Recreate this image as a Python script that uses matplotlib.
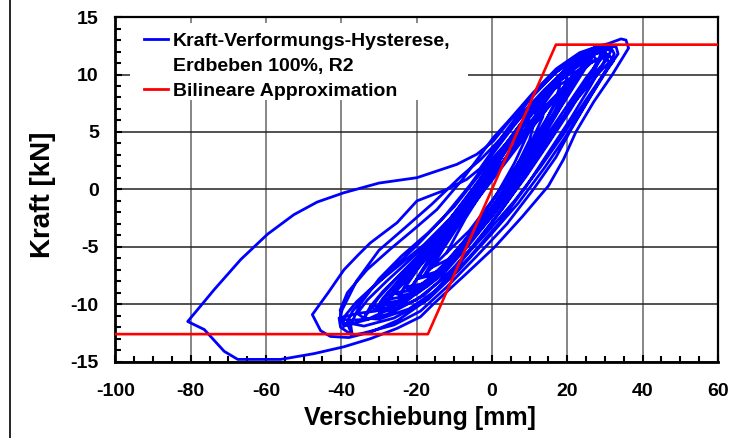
import matplotlib
matplotlib.use('Agg')
import matplotlib.pyplot as plt
from matplotlib.lines import Line2D
from matplotlib.patches import Rectangle
from matplotlib.ticker import MultipleLocator

plt.rcParams['font.family'] = ['Liberation Sans', 'DejaVu Sans']
plt.rcParams['font.weight'] = 'bold'
plt.rcParams['axes.unicode_minus'] = False

# ---------------- data ----------------
# loop descending from a positive tip to the -48 mm tip and back up
loop48_x = [27, 22, 16, 10, 4, 0, -3.2, -6.7, -12, -19.9, -25.2, -32.3, -35.5, -39.3, -43.5, -47.7,
            -45.5, -42.9, -38, -32, -25, -18, -11, -4, 3, 10, 16, 21, 26, 30.5, 31.5, 30.5]
loop48_y = [12.3, 11.5, 9.9, 7.8, 5.2, 3.3, 1.8, 0.87, 0.0, -1.0, -2.9, -4.66, -5.7, -7.0, -9.0, -10.9,
            -12.3, -12.8, -12.9, -12.4, -11.4, -9.8, -7.4, -4.6, -1.6, 1.7, 4.6, 7.4, 9.6, 11.3, 12.0, 12.4]

# large excursion to -80 mm
big_x = [28, 23, 17, 10.9, 4.8, 0.35, -4, -9.3, -19.9, -30, -39.3, -46.4, -52.6, -59.6, -66.7, -73.7,
         -80.8, -76.4, -71.1, -67.5, -56.1, -47.3, -39.3, -32.3, -25.2, -19, -15.6, -7, 0.8, 8, 15,
         19, 22.3, 27, 32, 35, 36.3, 35.6, 34.3]
big_y = [12.3, 11.5, 10.2, 8.2, 6.0, 4.2, 3.06, 2.18, 1.02, 0.55, -0.29, -1.1, -2.2, -3.9, -6.1, -8.7,
         -11.5, -12.2, -14.1, -14.8, -14.8, -14.3, -13.7, -13.0, -12.1, -11.1, -10.0, -7.4, -5.0, -2.4, 0.3,
         2.6, 5.0, 7.6, 10.0, 11.6, 12.3, 13.0, 13.1]

# outer envelope branch of the bundle
loop1_x = [31, 28.6, 23.3, 17.1, 10.9, 4.8, 0.35, -3, -8, -14.6, -20.8, -27, -33.2, -38.4, -40.3, -40]
loop1_y = [12.7, 12.5, 11.9, 10.5, 8.4, 6.1, 4.5, 3.0, 0.8, -1.75, -3.5, -5.2, -7.0, -9.0, -10.5, -11.3]

loop3_x = [-39.3, -35, -27, -18, -10, -2, 6, 13, 19, 25, 30, 32.3, 31, 27, 21, 14, 8, 2, -4, -11,
           -18, -25, -31, -36, -39.5, -39.3]
loop3_y = [-11.9, -11.5, -10.8, -9.2, -6.8, -4.0, -1.0, 2.0, 4.8, 7.8, 10.2, 11.2, 11.7, 11.2, 9.5,
           7.2, 5.0, 2.8, 0.3, -2.5, -4.8, -6.7, -8.3, -9.8, -11.2, -11.9]

loop12_x = [-38.5, -34, -26, -17, -9, -1, 7, 14, 20, 26, 31, 33.5, 33, 30, 25, 19, 12, 6, 0, -6,
            -13, -20, -27, -33, -37, -38.5]
loop12_y = [-11.6, -11.9, -11.2, -9.6, -7.1, -4.2, -1.2, 1.9, 4.8, 8.0, 10.6, 11.8, 12.4, 12.5, 11.7,
            10.2, 7.9, 5.6, 3.0, 0.3, -2.5, -4.9, -7.1, -9.0, -10.6, -11.6]

loop2_x = [-37.1, -34, -26, -19, -12, -4, 4, 11, 17, 21, 26, 30.5, 32.5, 31.7, 29, 24, 18, 12, 6, 1,
           -4, -10, -17, -24, -30, -35, -37.5, -37.1]
loop2_y = [-12.7, -12.5, -11.8, -10.6, -8.5, -5.8, -3.0, 0.0, 2.8, 5.2, 8.0, 10.5, 11.8, 12.3, 12.1,
           11.0, 9.5, 7.2, 4.8, 3.0, 1.0, -1.5, -3.8, -5.8, -7.8, -10.0, -11.8, -12.7]

loop17_x = [-37.1, -40.2, -40.6, -38, -33, -27, -20, -13, -6, 1, 8, 14, 20, 25, 29, 30.5, 29, 25,
            20, 14, 8, 2, -3, -8, -16, -24, -30, -36, -39.8, -40.3]
loop17_y = [-12.7, -12.0, -11.2, -11.4, -11.3, -10.4, -8.8, -6.6, -4.0, -1.3, 1.6, 4.4, 7.3, 9.7,
            11.4, 12.2, 12.4, 11.8, 10.6, 8.7, 6.6, 4.3, 2.6, 1.2, -1.3, -3.6, -5.3, -8.0, -10.5, -11.2]

loop4_x = [-35.8, -31, -23, -15, -7, 1, 8, 14, 20, 25, 28.8, 29.4, 27, 22, 16, 10, 4, -2, -8, -15,
           -22, -28, -33, -35.8]
loop4_y = [-10.8, -10.6, -9.8, -7.8, -5.0, -2.0, 1.0, 3.8, 6.8, 9.3, 11.3, 12.2, 12.1, 10.8, 8.8,
           6.4, 3.8, 1.2, -1.4, -4.0, -6.2, -8.0, -9.6, -10.8]

loop13_x = [-34, -30, -22, -14, -6, 2, 9, 15, 21, 26, 29.5, 30.5, 28.5, 24, 18, 12, 6, 0, -6, -12,
            -19, -25, -30, -34]
loop13_y = [-11.2, -11.3, -10.4, -8.6, -5.9, -2.9, 0.2, 3.2, 6.2, 8.9, 10.9, 11.8, 12.1, 11.3, 9.6,
            7.4, 4.9, 2.3, -0.4, -3.0, -5.6, -7.6, -9.4, -11.2]

loop5_x = [-32.3, -27, -20, -13, -6, 1, 7, 13, 18, 23, 26.5, 26.8, 24, 19, 13, 7, 1, -5, -11, -18,
           -24, -29, -32.3]
loop5_y = [-10.2, -10.0, -9.0, -7.0, -4.5, -1.6, 1.2, 4.2, 7.0, 9.6, 11.4, 12.1, 11.8, 10.3, 8.0,
           5.3, 2.5, -0.2, -2.8, -5.3, -7.3, -8.9, -10.2]

loop14_x = [-31, -27, -20, -12, -5, 2, 9, 15, 21, 25.5, 28, 26.5, 22, 16, 10, 4, -2, -8, -14, -20,
            -25, -29, -31]
loop14_y = [-10.5, -10.6, -9.6, -7.5, -4.9, -2.0, 1.1, 4.0, 7.0, 9.5, 11.2, 11.8, 10.9, 9.0, 6.7,
            4.1, 1.4, -1.2, -3.8, -6.1, -8.0, -9.5, -10.5]

loop18_x = [-30, -25, -18, -10, -3, 4, 11, 17, 23, 27.5, 29, 27, 22, 16, 9, 2, -5, -12, -19, -25, -30]
loop18_y = [-10.6, -10.3, -8.4, -5.8, -3.1, -0.3, 2.7, 5.4, 8.2, 10.5, 11.9, 11.8, 10.0, 7.6, 4.8,
            1.9, -1.0, -3.9, -6.6, -8.7, -10.6]

loop6_x = [-29.6, -24, -17, -10, -3, 4, 11, 17, 23, 28, 31.2, 30, 26, 20, 14, 8, 2, -4, -10, -16,
           -22, -27, -29.6]
loop6_y = [-9.9, -9.7, -8.4, -6.0, -3.2, -0.2, 2.8, 5.5, 8.0, 10.0, 11.1, 11.5, 11.0, 9.2, 7.0,
           4.6, 2.0, -0.6, -3.0, -5.2, -7.2, -8.8, -9.9]

loop7_x = [-27.9, -23, -16, -9, -2, 5, 11, 16, 21, 24.5, 25, 22.5, 18, 12, 6, 0, -6, -12, -18, -23,
           -27.9]
loop7_y = [-9.6, -9.3, -7.9, -5.5, -2.6, 0.5, 3.5, 6.3, 9.0, 10.8, 11.4, 11.1, 9.7, 7.4, 4.8, 2.0,
           -0.8, -3.3, -5.6, -7.5, -9.6]

loop8_x = [-26.1, -21, -14, -7, 0, 6, 12, 17, 21, 22, 19.5, 14, 8, 2, -4, -10, -16, -21, -26.1]
loop8_y = [-9.0, -8.8, -7.1, -4.6, -1.7, 1.2, 4.2, 7.0, 9.3, 10.2, 9.9, 8.0, 5.4, 2.6, -0.2, -2.9,
           -5.2, -7.1, -9.0]

loop15_x = [-24.5, -20, -13, -6, 1, 7, 12.5, 17, 19.5, 20, 17.5, 12, 6, 0, -6, -12, -17, -21.5, -24.5]
loop15_y = [-9.2, -9.1, -7.4, -4.8, -1.9, 1.0, 4.0, 6.9, 8.9, 9.8, 9.5, 7.6, 5.0, 2.2, -0.6, -3.3,
            -5.6, -7.5, -9.2]

loop9_x = [-23, -18, -11, -4, 2, 8, 13, 17, 18, 15, 10, 4, -2, -8, -14, -19, -23]
loop9_y = [-8.5, -8.2, -6.2, -3.5, -0.9, 2.2, 5.0, 7.8, 9.0, 8.5, 6.5, 3.6, 0.8, -2.0, -4.6, -6.6, -8.5]

loop19_x = [-22, -16, -9, -2, 5, 11, 16, 21, 24, 22, 17, 11, 4, -3, -10, -16, -22]
loop19_y = [-8.8, -7.8, -5.2, -2.4, 0.6, 3.5, 6.0, 8.7, 10.5, 10.2, 8.0, 5.5, 2.5, -0.5, -3.5, -6.0, -8.8]

loop10_x = [-20, -15, -8, -1, 5, 10, 13.5, 14, 11, 6, 0, -6, -12, -17, -20]
loop10_y = [-7.8, -7.4, -5.0, -2.2, 0.8, 3.8, 6.3, 7.5, 6.8, 4.5, 1.5, -1.5, -4.2, -6.2, -7.8]

loop16_x = [-18, -13, -6.5, 0, 5.5, 10, 12, 9.5, 4, -2, -8, -13.5, -18]
loop16_y = [-7.5, -7.0, -4.5, -1.6, 1.3, 4.3, 6.8, 6.5, 3.8, 0.7, -2.4, -5.0, -7.5]

loop11_x = [-16, -11, -5, 1, 6, 9.5, 10, 7, 2, -4, -9, -13, -16]
loop11_y = [-6.8, -6.0, -3.5, -0.6, 2.3, 4.8, 6.0, 5.2, 2.5, -0.6, -3.2, -5.2, -6.8]

loop20_x = [-12, -6, 0, 6, 12, 17, 20, 17, 11, 5, -1, -7, -12]
loop20_y = [-5.5, -3.6, -1.0, 1.8, 4.8, 7.5, 9.5, 8.9, 6.2, 3.4, 0.6, -2.5, -5.5]

hyst_loops_x = [loop48_x, big_x, loop1_x, loop3_x, loop12_x, loop2_x, loop17_x, loop4_x, loop13_x,
                loop5_x, loop14_x, loop18_x, loop6_x, loop7_x, loop8_x, loop15_x, loop9_x, loop19_x,
                loop10_x, loop16_x, loop11_x, loop20_x]
hyst_loops_y = [loop48_y, big_y, loop1_y, loop3_y, loop12_y, loop2_y, loop17_y, loop4_y, loop13_y,
                loop5_y, loop14_y, loop18_y, loop6_y, loop7_y, loop8_y, loop15_y, loop9_y, loop19_y,
                loop10_y, loop16_y, loop11_y, loop20_y]

bilin_x = [-100, -17, 17, 60]
bilin_y = [-12.6, -12.6, 12.6, 12.6]

xticks = [-100, -80, -60, -40, -20, 0, 20, 40, 60]
yticks = [-15, -10, -5, 0, 5, 10, 15]

label_blue_1 = 'Kraft-Verformungs-Hysterese,'
label_blue_2 = 'Erdbeben 100%, R2'
label_red = 'Bilineare Approximation'

# ---------------- figure ----------------
fig = plt.figure(figsize=(7.51, 4.38), dpi=100)
ax = fig.add_axes([0.1537, 0.1742, 0.8021, 0.7868])

hx = [v for seg in hyst_loops_x for v in seg]
hy = [v for seg in hyst_loops_y for v in seg]
ax.plot(hx, hy, color='#0000FF', lw=2.0, solid_joinstyle='round', zorder=3)
ax.plot(bilin_x, bilin_y, color='#FF0000', lw=1.9, zorder=4)

ax.set_xlim(-100, 60)
ax.set_ylim(-15, 15)
ax.set_xticks(xticks)
ax.set_yticks(yticks)
ax.xaxis.set_minor_locator(MultipleLocator(5))
ax.yaxis.set_minor_locator(MultipleLocator(1))

ax.xaxis.grid(True, which='major', color='#666666', lw=1.1, zorder=1)
ax.yaxis.grid(True, which='major', color='#222222', lw=1.1, zorder=1)
ax.set_axisbelow(True)

ax.tick_params(which='both', direction='in', colors='black', width=1.5)
ax.tick_params(which='major', length=5)
ax.tick_params(which='minor', length=4.5)
ax.tick_params(axis='x', which='major', pad=15, labelsize=14)
ax.tick_params(axis='y', which='major', pad=12, labelsize=14)
for lab in ax.get_xticklabels() + ax.get_yticklabels():
    lab.set_fontweight('bold')

for side in ['left', 'bottom']:
    ax.spines[side].set_linewidth(2.0)
for side in ['top', 'right']:
    ax.spines[side].set_linewidth(1.6)

ax.set_xlabel('Verschiebung [mm]', fontsize=18, fontweight='bold')
ax.set_ylabel('Kraft [kN]', fontsize=20, fontweight='bold')
ax.xaxis.set_label_coords(0.505, -0.128)
ax.yaxis.set_label_coords(-0.099, 0.484)

# white legend box
ax.add_patch(Rectangle((0.024, 0.759), 0.561, 0.224, transform=ax.transAxes,
                       facecolor='white', edgecolor='none', zorder=4))
handles = [Line2D([], [], color='#0000FF', lw=2.0),
           Line2D([], [], color='none', lw=0),
           Line2D([], [], color='#FF0000', lw=2.0)]
leg = ax.legend(handles, [label_blue_1, label_blue_2, label_red], loc='upper left',
                bbox_to_anchor=(0.021, 1.0), frameon=False, fontsize=14,
                handlelength=1.25, handletextpad=0.25, labelspacing=0.38,
                borderaxespad=0.5, borderpad=0.3)
leg.set_zorder(6)
for t in leg.get_texts():
    t.set_fontweight('bold')

fig.add_artist(Line2D([0.0133, 0.0133], [0, 1], transform=fig.transFigure,
                      color='black', lw=1.2))

fig.savefig('out.png', dpi=100)
